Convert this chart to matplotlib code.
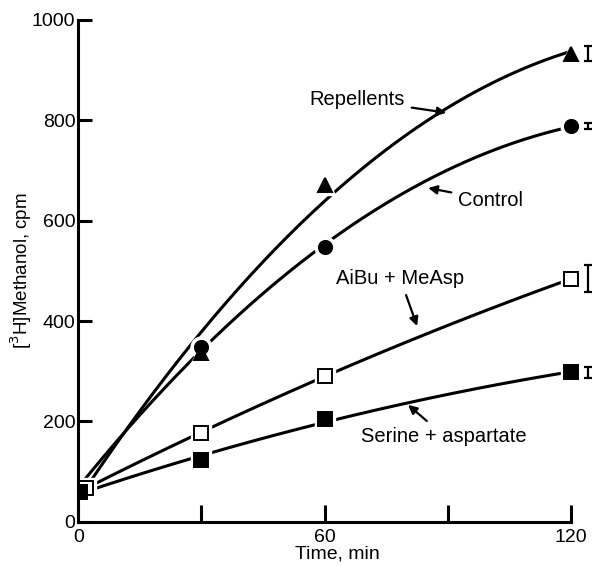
import matplotlib
matplotlib.use('Agg')
from matplotlib import pyplot as plt
import numpy as np

plt.rcParams['font.family'] = ['Liberation Sans', 'DejaVu Sans']

# time points (min) and [3H]methanol (cpm)
t_rep = [0, 30, 60, 120]
y_rep = [60, 336, 671, 932]
t_ctl = [0, 30, 60, 120]
y_ctl = [66, 348, 548, 788]
t_aib = [2, 30, 60, 120]
y_aib = [68, 177, 291, 484]
t_ser = [0.5, 30, 60, 120]
y_ser = [60, 123, 205, 298]

# error bars drawn at the right edge
err_x = 124
err_rep = 15
err_ctl = 6
err_aib = 27
err_ser = 11

fig = plt.figure(figsize=(5.97, 5.66), dpi=100)
ax = fig.add_axes([0.131, 0.078, 0.867, 0.887])

tt = np.linspace(0, 120, 200)
series = [
    (t_rep, y_rep, '^', 'black', err_rep),
    (t_ctl, y_ctl, 'o', 'black', err_ctl),
    (t_aib, y_aib, 's', 'white', err_aib),
    (t_ser, y_ser, 's', 'black', err_ser),
]
for t, y, m, fc, e in series:
    c = np.polyfit(t, y, 2)
    ax.plot(tt, np.polyval(c, tt), color='black', lw=2.2, zorder=1)
for t, y, m, fc, e in series:
    ax.plot(t, y, ls='none', marker=m, ms=15, mfc='white', mec='white', zorder=2)
for t, y, m, fc, e in series:
    ax.plot(t, y, ls='none', marker=m, ms=9.5, mfc=fc, mec='black', mew=1.4, zorder=3)
    ax.errorbar([err_x], [y[-1]], yerr=[e], fmt='none', ecolor='black',
                elinewidth=1.6, capsize=3, capthick=1.6, clip_on=False)

kw = dict(fontsize=14.5, arrowprops=dict(arrowstyle='-|>', color='black', lw=1.6,
                                          mutation_scale=13, shrinkA=3, shrinkB=0))
ax.annotate('Repellents', xy=(89.6, 815), xytext=(79.5, 841), ha='right', va='center', **kw)
ax.annotate('Control', xy=(85.2, 665), xytext=(92.5, 641), ha='left', va='center', **kw)
ax.annotate('AiBu + MeAsp', xy=(82.5, 390), xytext=(78.4, 484), ha='center', va='center', **kw)
ax.annotate('Serine + aspartate', xy=(80.3, 233), xytext=(89.1, 171), ha='center', va='center', **kw)

ax.set_xlim(0, 126)
ax.set_ylim(0, 1000)
ax.spines['top'].set_visible(False)
ax.spines['right'].set_visible(False)
ax.spines['bottom'].set_bounds(0, 120)
ax.spines['left'].set_bounds(0, 1000)
for s in ['bottom', 'left']:
    ax.spines[s].set_linewidth(2.2)
    ax.spines[s].set_clip_on(False)

ax.set_xticks([0, 30, 60, 90, 120])
ax.set_xticklabels(['0', '', '60', '', '120'])
ax.set_yticks([0, 200, 400, 600, 800, 1000])
ax.tick_params(direction='in', length=10, width=2.2, labelsize=14, pad=2)
ax.tick_params(axis='x', length=12, pad=5)
ax.set_xlabel('Time, min', fontsize=14, labelpad=0)
ax.set_ylabel('[$^{3}$H]Methanol, cpm', fontsize=13.5, va='center')
ax.yaxis.set_label_coords(-0.11, 0.5)

fig.savefig('out.png', dpi=100)
